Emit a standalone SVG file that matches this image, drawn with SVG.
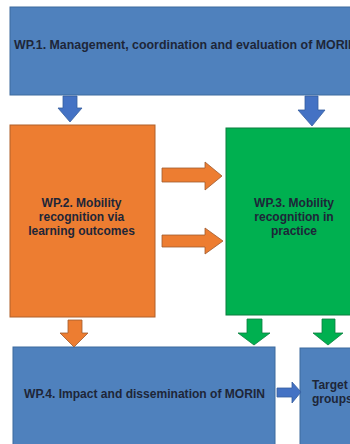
<svg xmlns="http://www.w3.org/2000/svg" width="350" height="444" viewBox="0 0 350 444">
<style>
.blue{fill:#4F81BD;stroke:#3C6A9E;stroke-width:1}
.orange{fill:#ED7D31;stroke:#B0602A;stroke-width:1}
.green{fill:#00B050;stroke:#0A7F3F;stroke-width:1}
.ablue{fill:#4472C4;stroke:#365E9E;stroke-width:0.8}
.aorange{fill:#ED7D31;stroke:#9E5A2E;stroke-width:0.8}
.agreen{fill:#00B050;stroke:#0A7F3F;stroke-width:0.8}
text{font-family:"Liberation Sans",Arial,sans-serif;font-weight:bold;font-size:12px;fill:#1E2638}
.c{text-anchor:middle}
</style>
<rect width="350" height="444" fill="#ffffff"/>
<g id="wp1">
<rect class="blue" x="10" y="7" width="345" height="88"/>
<text x="14" y="49" textLength="343" lengthAdjust="spacingAndGlyphs">WP.1. Management, coordination and evaluation of MORIN</text>
</g>
<g id="wp2">
<rect class="orange" x="10" y="125" width="145" height="192"/>
<text class="c" x="81.5" y="207">WP.2. Mobility</text>
<text class="c" x="81.5" y="221">recognition via</text>
<text class="c" x="81.5" y="235">learning outcomes</text>
</g>
<g id="wp3">
<rect class="green" x="226" y="128" width="130" height="187"/>
<text class="c" x="294" y="207">WP.3. Mobility</text>
<text class="c" x="294" y="221">recognition in</text>
<text class="c" x="294" y="235">practice</text>
</g>
<g id="wp4">
<rect class="blue" x="13" y="347" width="262" height="100"/>
<text x="24" y="398" textLength="241" lengthAdjust="spacingAndGlyphs">WP.4. Impact and dissemination of MORIN</text>
</g>
<g id="target">
<rect class="blue" x="300" y="348" width="55" height="100"/>
<text x="312" y="389">Target</text>
<text x="312" y="403">groups</text>
</g>
<g id="connectors">
<polygon class="ablue" points="63,96 77,96 77,108 82,108 70,122 58,108 63,108"/>
<polygon class="ablue" points="305,96 318,96 318,110 325,110 312,126 298,110 305,110"/>
<polygon class="aorange" points="162,168 205,168 205,162 222,176 205,190 205,182 162,182"/>
<polygon class="aorange" points="162,235 205,235 205,228 223,241 205,254 205,247 162,247"/>
<polygon class="aorange" points="68,320 82,320 82,333 88,333 74,347 60,333 68,333"/>
<polygon class="agreen" points="247,319 262,319 262,333 270,333 254,345 238,333 247,333"/>
<polygon class="agreen" points="322,319 335,319 335,333 343,333 328,345 313,333 322,333"/>
<polygon class="ablue" points="277,388 292,388 292,382 301,392 292,403 292,397 277,397"/>
</g>
</svg>
